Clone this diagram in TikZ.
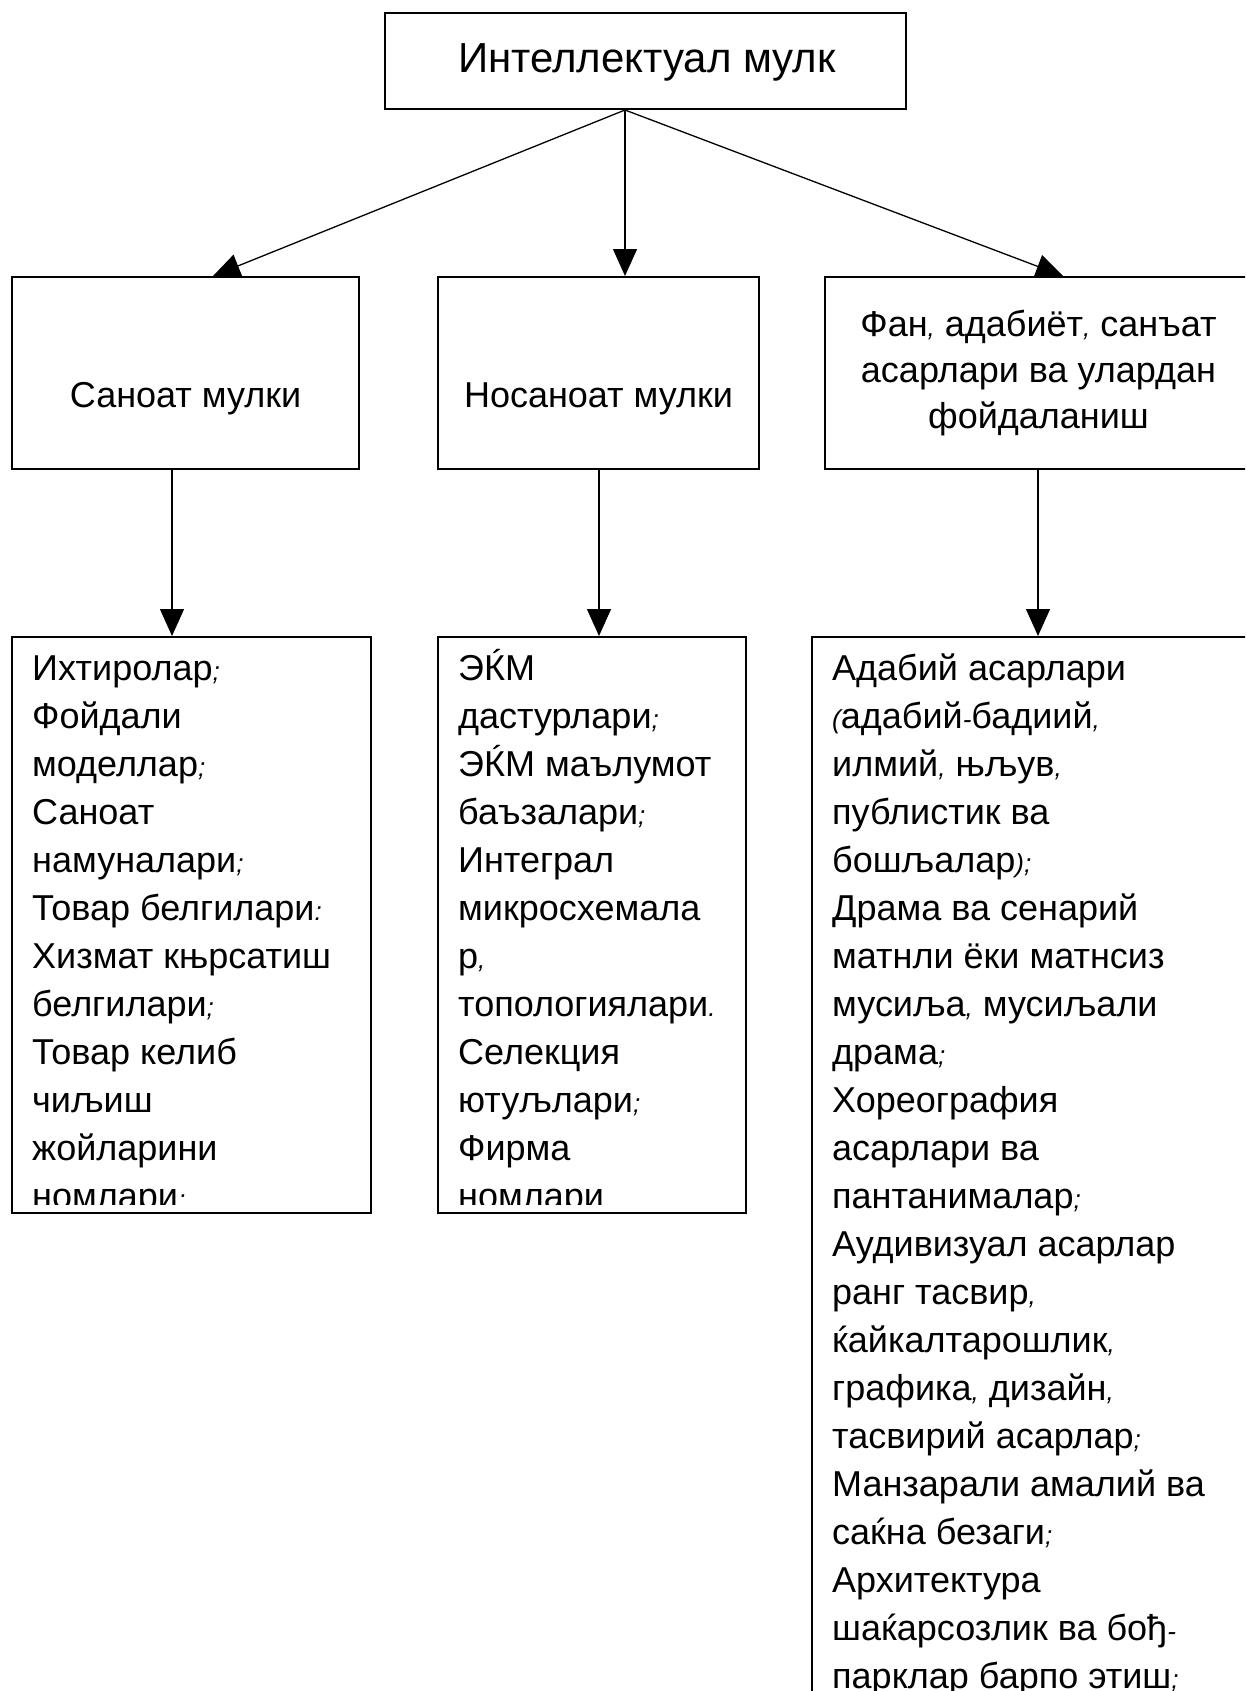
\documentclass[tikz,border=0pt]{standalone}
\usepackage{fontspec}
\setmainfont{Liberation Sans}
\usetikzlibrary{arrows.meta}
\newcommand\pq[1]{{\fontsize{26}{26}\selectfont\itshape #1}}
\tikzset{
  box/.style={draw=black, line width=2pt, inner sep=0pt, fill=white},
  arr/.style={line width=1.3pt, -{Triangle[length=27pt,width=24pt]}},
  midtxt/.style={inner sep=0pt, font=\fontsize{36}{46}\selectfont},
  toptxt/.style={inner sep=0pt, font=\fontsize{42}{46}\selectfont},
  listtxt/.style={inner sep=0pt, align=left, anchor=base west, font=\fontsize{36}{48}\selectfont},
}
\begin{document}
\begin{tikzpicture}[x=1pt,y=-1pt]
\useasboundingbox (0,0) rectangle (1245,1691);
\clip (0,0) rectangle (1245,1691);
\fill[white] (0,0) rectangle (1245,1691);
% boxes
\node[box, minimum width=521pt, minimum height=96pt] (top) at (645.5,61) {};
\node[box, minimum width=347pt, minimum height=192pt] (left) at (185.5,373) {};
\node[box, minimum width=321pt, minimum height=192pt] (mid) at (598.5,373) {};
\node[box, minimum width=426pt, minimum height=192pt] (right) at (1038,373) {};
\node[box, minimum width=359pt, minimum height=576pt] (lb) at (191.5,925) {};
\node[box, minimum width=308pt, minimum height=576pt] (mb) at (592,925) {};
\node[box, minimum width=453pt, minimum height=1083pt] (rb) at (1038.5,1178.5) {};
% labels
\node[toptxt, anchor=base] (ttop) at (647,73) {Интеллектуал мулк};
\node[midtxt, anchor=base] (tleft) at (185.5,407) {Саноат мулки};
\node[midtxt, anchor=base] (tmid) at (598.5,407) {Носаноат мулки};
\node[midtxt, anchor=base, align=center] (tright) at (1038.5,428) {Фан\pq{,} адабиёт\pq{,} санъат\\асарлари ва улардан\\фойдаланиш};
% arrows
\draw[arr] ([xshift=-20.5pt]top.south) -- ([xshift=27.5pt]left.north);
\draw[arr] ([xshift=-20.5pt]top.south) -- ([xshift=26.5pt]mid.north);
\draw[arr] ([xshift=-20.5pt]top.south) -- ([xshift=25pt]right.north);
\draw[arr] ([xshift=-13.5pt]left.south) -- ([xshift=-19.5pt]lb.north);
\draw[arr] ([xshift=0.5pt]mid.south) -- ([xshift=7pt]mb.north);
\draw[arr] (right.south) -- ([xshift=-0.5pt]rb.north);
% list texts
\begin{scope}
\clip (12,637) rectangle (371,1204);
\node[listtxt] (tlb) at (32,1208) {Ихтиролар\pq{;}\\Фойдали\\моделлар\pq{;}\\Саноат\\намуналари\pq{;}\\Товар белгилари\pq{:}\\Хизмат књрсатиш\\белгилари\pq{;}\\Товар келиб\\чиљиш\\жойларини\\номлари\pq{;}};
\end{scope}
\begin{scope}
\clip (438,637) rectangle (746,1204);
\node[listtxt] (tmb) at (458,1208) {ЭЌМ\\дастурлари\pq{;}\\ЭЌМ маълумот\\баъзалари\pq{;}\\Интеграл\\микросхемала\\р\pq{,}\\топологиялари\pq{.}\\Селекция\\ютуљлари\pq{;}\\Фирма\\номлари};
\end{scope}
\node[listtxt] (trb) at (832,1688) {Адабий асарлари\\\pq{(}адабий\pq{-}бадиий\pq{,}\\илмий\pq{,} њљув\pq{,}\\публистик ва\\бошљалар\pq{);}\\Драма ва сенарий\\матнли ёки матнсиз\\мусиљa\pq{,} мусиљали\\драма\pq{;}\\Хореография\\асарлари ва\\пантанималар\pq{;}\\Аудивизуал асарлар\\ранг тасвир\pq{,}\\ќайкалтарошлик\pq{,}\\графика\pq{,} дизайн\pq{,}\\тасвирий асарлар\pq{;}\\Манзарали амалий ва\\саќна безаги\pq{;}\\Архитектура\\шаќарсозлик ва бођ\pq{-}\\парклар барпо этиш\pq{;}};
\end{tikzpicture}
\end{document}
